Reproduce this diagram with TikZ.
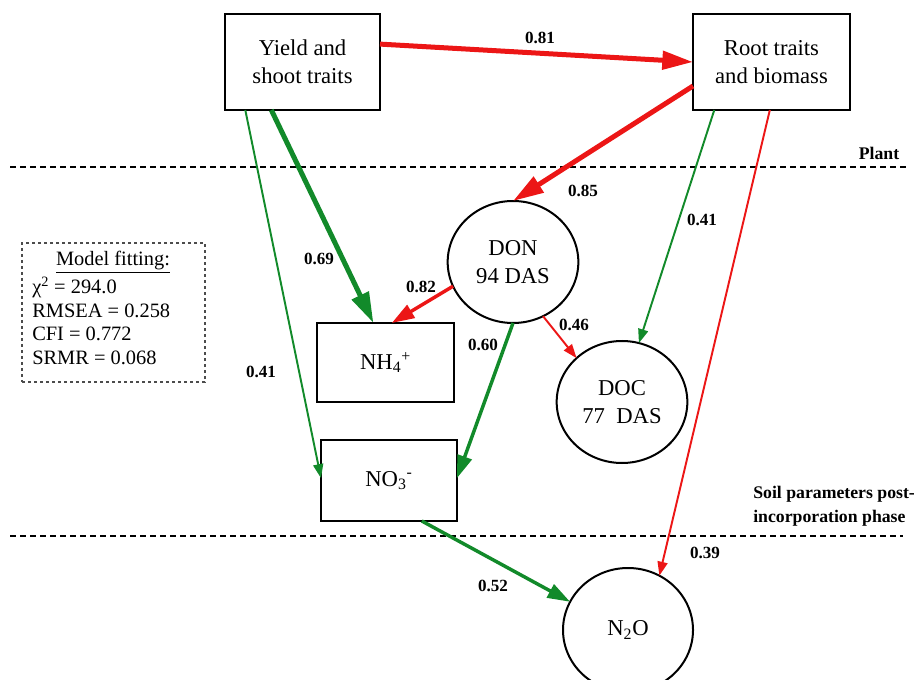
\documentclass[tikz,border=0pt]{standalone}
\usepackage{fontspec}
\setmainfont{Liberation Serif}
\usetikzlibrary{arrows.meta,shapes.geometric}
\definecolor{pred}{RGB}{236,22,22}
\definecolor{pgreen}{RGB}{18,138,42}
\tikzset{
  boxnode/.style={draw, line width=1.5pt, rectangle, inner sep=0pt, outer sep=0pt, align=center, font=\fontsize{17}{21}\selectfont},
  ellnode/.style={draw, line width=1.5pt, ellipse, inner sep=0pt, outer sep=0pt, align=center, minimum width=98pt, minimum height=91.5pt, font=\fontsize{17}{21}\selectfont},
  coef/.style={font=\bfseries\fontsize{12.8}{15}\selectfont, inner sep=0pt},
  sect/.style={font=\bfseries\fontsize{13.3}{18}\selectfont, inner sep=0pt, align=left},
  fit/.style={font=\fontsize{15.3}{18}\selectfont, inner sep=0pt},
  divider/.style={line width=1.5pt, dash pattern=on 4.5pt off 3pt},
  thickarr/.style={line width=3.75pt, -{Triangle[length=23pt,width=13.5pt]}},
  medarr/.style={line width=2.6pt, -{Triangle[length=17pt,width=11pt]}},
  thinarr/.style={line width=1.45pt, -{Triangle[length=10.5pt,width=7.5pt]}},
}
\begin{document}
\begin{tikzpicture}[x=0.75pt, y=-0.75pt]
\useasboundingbox (0,0) rectangle (919,680);

% dividers
\coordinate (d1a) at (10,167); \coordinate (d1b) at (910,167);
\coordinate (d2a) at (10,536); \coordinate (d2b) at (903,536);
\draw[divider] (d1a) -- (d1b);
\draw[divider] (d2a) -- (d2b);
\node[sect] (plant) at (879,153) {Plant};
\node[sect, anchor=west] (soil) at (753,506) {Soil parameters post-\\incorporation phase};

% nodes
\node[boxnode, minimum width=116.25pt, minimum height=72pt] (yield) at (302.5,62) {Yield and\\shoot traits};
\node[boxnode, minimum width=117.75pt, minimum height=72pt] (root) at (771.5,62) {Root traits\\and biomass};
\node[boxnode, minimum width=102.75pt, minimum height=59.25pt] (nh4) at (385.5,362.5) {NH\textsubscript{4}\textsuperscript{+}};
\node[boxnode, minimum width=102pt, minimum height=60.75pt] (no3) at (389,480.5) {NO\textsubscript{3}\textsuperscript{-}};
\node[ellnode] (don) at (513,262) {DON\\94 DAS};
\node[ellnode] (doc) at (622,402) {DOC\\77\ \ DAS};
\node[ellnode, minimum width=97.5pt, minimum height=93pt] (n2o) at (628,630) {N\textsubscript{2}O};

% model fitting box
\node[draw=black!70, line width=0.8pt, dash pattern=on 2.5pt off 2pt, minimum width=137.25pt, minimum height=104.25pt, inner sep=0pt] (fitbox) at (113.5,312.5) {};
\node[fit] (fittitle) at (113,262) {\underline{Model fitting:}};
\node[fit, anchor=west] (chi) at (32,287) {χ\textsuperscript{2} = 294.0};
\node[fit, anchor=west] (rmsea) at (32,311) {RMSEA = 0.258};
\node[fit, anchor=west] (cfi) at (32,334) {CFI = 0.772};
\node[fit, anchor=west] (srmr) at (32,358) {SRMR = 0.068};

% arrows
\draw[thickarr, pred] (yield.13) -- (root.west);
\draw[thickarr, pred] (root.197) -- (don.north);
\draw[thickarr, pgreen] (yield.237.6) -- (nh4.107);
\draw[thinarr, pgreen] (yield.220.3) -- (no3.178);
\draw[medarr, pred] (don.202.6) -- (nh4.81);
\draw[medarr, pgreen] (don.south) -- (no3.2);
\draw[thinarr, pred] (don.299) -- (doc.136);
\draw[thinarr, pgreen] (root.220) -- (doc.74);
\draw[thinarr, pred] (root.268) -- (n2o.60);
\draw[medarr, pgreen] (no3.309) -- (n2o.154);

% coefficients
\node[coef] (c81) at (540,38) {0.81};
\node[coef] (c85) at (583,191) {0.85};
\node[coef] (c41r) at (702,220) {0.41};
\node[coef] (c69) at (319,259) {0.69};
\node[coef] (c82) at (421,287) {0.82};
\node[coef] (c46) at (574,325) {0.46};
\node[coef] (c60) at (483,345) {0.60};
\node[coef] (c41l) at (261,372) {0.41};
\node[coef] (c39) at (705,553) {0.39};
\node[coef] (c52) at (493,586) {0.52};
\end{tikzpicture}
\end{document}
